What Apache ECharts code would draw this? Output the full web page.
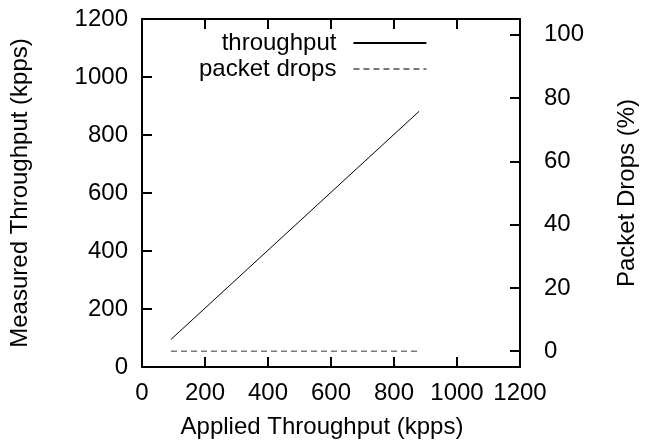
<!DOCTYPE html>
<html><head><meta charset="utf-8">
<script src="https://cdn.jsdelivr.net/npm/echarts@6/dist/echarts.min.js"></script>
<style>html,body{margin:0;padding:0;background:#fff}#c{width:655px;height:446px}</style>
</head><body><div id="c"></div>
<script>
const appliedX = [92, 880];
const measured = [95, 882];
const dropsX = [92, 880];
const drops = [0, 0];
const xTicks = [0, 200, 400, 600, 800, 1000, 1200];
const yTicks = [0, 200, 400, 600, 800, 1000, 1200];
const y2Ticks = [0, 20, 40, 60, 80, 100];

const F = 'Liberation Sans, Arial, Helvetica, sans-serif';
const FS = 24;
const axisLine = () => ({show: true, onZero: false, lineStyle: {color: '#000', width: 2}});
const tick = (vals, inside, len) => ({show: true, inside: inside, length: len, customValues: vals, lineStyle: {color: '#000', width: 2}});
const lbl = (m, vals) => ({fontFamily: F, fontSize: FS, color: '#000', margin: m, customValues: vals, formatter: v => String(v)});
const chart = echarts.init(document.getElementById('c'), null, {renderer: 'canvas'});
chart.setOption({
  animation: false,
  backgroundColor: '#fff',
  grid: {left: 140, right: 135, top: 19, bottom: 79, containLabel: false},
  legend: {
    orient: 'vertical', left: 194, top: 26, align: 'right', itemGap: 2,
    itemWidth: 73, itemHeight: 14,
    itemStyle: {opacity: 0},
    textStyle: {fontFamily: F, fontSize: FS, color: '#000', width: 150, align: 'right', padding: [0, 12, 0, 0]},
    data: ['throughput', 'packet drops']
  },
  xAxis: [{
    type: 'value', min: 0, max: 1200, position: 'bottom',
    name: 'Applied Throughput (kpps)', nameLocation: 'middle', nameGap: 48,
    nameTextStyle: {fontFamily: F, fontSize: FS, color: '#000', padding: [0, 18, 0, 0]},
    axisLine: axisLine(), axisTick: tick(xTicks, false, -10),
    axisLabel: lbl(14, xTicks),
    splitLine: {show: false}
  }, {
    type: 'value', min: 0, max: 1200, position: 'top',
    axisLine: axisLine(), axisTick: tick(xTicks, false, -10),
    axisLabel: {show: false},
    splitLine: {show: false}
  }],
  yAxis: [{
    type: 'value', min: 0, max: 1200, position: 'left',
    name: 'Measured Throughput (kpps)', nameLocation: 'middle', nameGap: 110, nameRotate: 90,
    nameTextStyle: {fontFamily: F, fontSize: FS, color: '#000'},
    axisLine: axisLine(), axisTick: tick(yTicks, false, -10),
    axisLabel: lbl(14, yTicks),
    splitLine: {show: false}
  }, {
    type: 'value', min: -5, max: 105, position: 'right',
    name: 'Packet Drops (%)', nameLocation: 'middle', nameGap: 95, nameRotate: 90,
    nameTextStyle: {fontFamily: F, fontSize: FS, color: '#000'},
    axisLine: axisLine(),
    axisTick: tick(y2Ticks, true, 10),
    axisLabel: lbl(24, y2Ticks),
    splitLine: {show: false}
  }],
  series: [{
    name: 'throughput', type: 'line', xAxisIndex: 0, yAxisIndex: 0, symbol: 'none',
    lineStyle: {color: '#000', width: 1}, itemStyle: {color: '#000'},
    data: appliedX.map((x, i) => [x, measured[i]])
  }, {
    name: 'packet drops', type: 'line', xAxisIndex: 0, yAxisIndex: 1, symbol: 'none',
    lineStyle: {color: '#777', width: 1.5, type: [6, 4]}, itemStyle: {color: '#777'},
    data: dropsX.map((x, i) => [x, drops[i]])
  }]
});
</script></body></html>
